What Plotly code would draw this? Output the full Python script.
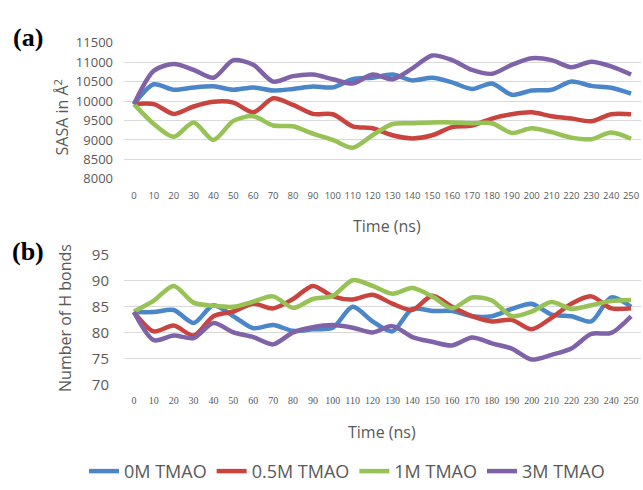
import plotly.graph_objects as go

W, H = 643, 490

time_ns = list(range(0, 251, 10))
series_names = ["0M TMAO", "0.5M TMAO", "1M TMAO", "3M TMAO"]
colors = ["#4a86c8", "#c9443f", "#96c256", "#8062a8"]

sasa_0m = [9920, 10430, 10290, 10350, 10380, 10290, 10350, 10270, 10310, 10370,
           10350, 10560, 10600, 10680, 10530, 10600, 10480, 10310, 10450, 10160,
           10270, 10290, 10500, 10390, 10340, 10190]
sasa_05m = [9920, 9920, 9670, 9860, 9980, 9960, 9710, 10070, 9900, 9670,
            9660, 9350, 9300, 9120, 9040, 9120, 9330, 9370, 9550, 9660,
            9710, 9610, 9550, 9480, 9660, 9660]
sasa_1m = [9920, 9410, 9080, 9450, 9000, 9490, 9610, 9370, 9350, 9160,
           9000, 8800, 9120, 9410, 9430, 9450, 9450, 9430, 9430, 9180,
           9300, 9200, 9060, 9020, 9190, 9030]
sasa_3m = [9920, 10780, 10950, 10800, 10600, 11050, 10930, 10500, 10640, 10680,
           10560, 10450, 10680, 10560, 10840, 11170, 11050, 10800, 10700, 10930,
           11100, 11050, 10870, 11010, 10890, 10680]

hb_0m = [84.0, 84.0, 84.4, 81.9, 85.3, 83.2, 80.9, 81.5, 80.4, 80.7,
         81.0, 85.0, 82.2, 80.3, 84.6, 84.2, 84.2, 83.2, 83.2, 84.6,
         85.6, 83.5, 83.2, 82.2, 86.8, 85.0]
hb_05m = [84.0, 80.3, 81.4, 79.5, 83.2, 84.1, 85.6, 84.7, 86.5, 89.0,
          87.0, 86.4, 87.3, 85.6, 84.4, 87.1, 85.0, 83.2, 82.2, 82.5,
          80.7, 82.9, 85.6, 87.0, 84.7, 84.7]
hb_1m = [84.1, 86.2, 89.0, 85.8, 85.2, 85.0, 86.0, 87.0, 84.8, 86.5,
         87.1, 90.1, 89.0, 87.5, 88.6, 87.0, 84.7, 86.8, 86.2, 83.2,
         84.1, 85.9, 84.6, 85.3, 86.1, 86.3]
hb_3m = [84.0, 78.6, 79.5, 79.0, 81.9, 80.1, 79.2, 77.8, 80.1, 81.1,
         81.5, 81.0, 80.1, 81.3, 79.2, 78.3, 77.6, 79.1, 78.0, 77.0,
         74.9, 75.8, 77.0, 79.8, 80.0, 83.2]

sasa_ticks = [8000, 8500, 9000, 9500, 10000, 10500, 11000, 11500]
hb_ticks = [70, 75, 80, 85, 90, 95]

sasa_data = [sasa_0m, sasa_05m, sasa_1m, sasa_3m]
hb_data = [hb_0m, hb_05m, hb_1m, hb_3m]

fig = go.Figure()
for name, col, ys in zip(series_names, colors, sasa_data):
    fig.add_trace(go.Scatter(x=time_ns, y=ys, mode="lines", name=name,
                             line=dict(color=col, width=4.5, shape="spline", smoothing=0.8),
                             xaxis="x", yaxis="y", showlegend=True))
for name, col, ys in zip(series_names, colors, hb_data):
    fig.add_trace(go.Scatter(x=time_ns, y=ys, mode="lines", name=name,
                             line=dict(color=col, width=4.5, shape="spline", smoothing=0.8),
                             xaxis="x2", yaxis="y2", showlegend=False))

def px_x(p):
    return p / W

def px_y(p):
    return 1 - p / H

xdom = [px_x(124), px_x(641)]
grid = "#d9d9d9"
tickcol = "#595959"

fig.update_layout(
    width=W, height=H,
    margin=dict(l=0, r=0, t=0, b=0),
    paper_bgcolor="white", plot_bgcolor="white",
    font=dict(family="Open Sans", color=tickcol),
    xaxis=dict(domain=xdom, anchor="y", range=[-5, 255], tickvals=time_ns,
               ticktext=[str(t) for t in time_ns], showgrid=False, zeroline=False,
               showline=False, ticks="", ticklabelstandoff=10,
               tickfont=dict(family="Open Sans", size=9.5, color=tickcol)),
    yaxis=dict(domain=[px_y(175), px_y(33)], anchor="x", range=[8000, 11500],
               tickvals=sasa_ticks, ticktext=[str(t) for t in sasa_ticks],
               showgrid=True, gridcolor=grid, gridwidth=1,
               zeroline=False, showline=False, ticks="", ticklabelstandoff=10,
               tickfont=dict(family="Open Sans", size=13, color=tickcol)),
    xaxis2=dict(domain=xdom, anchor="y2", range=[-5, 255], tickvals=time_ns,
                ticktext=[str(t) for t in time_ns], showgrid=False, zeroline=False,
                showline=False, ticks="", ticklabelstandoff=8,
                tickfont=dict(family="Liberation Serif", size=10, color=tickcol)),
    yaxis2=dict(domain=[px_y(390), px_y(254)], anchor="x2", range=[70, 95],
                tickvals=hb_ticks, ticktext=[str(t) for t in hb_ticks],
                showgrid=True, gridcolor=grid, gridwidth=1,
                zeroline=False, showline=False, ticks="", ticklabelstandoff=14,
                tickfont=dict(family="Open Sans", size=15, color=tickcol)),
    legend=dict(orientation="h", x=px_x(347), xanchor="center", y=px_y(480),
                yanchor="middle", font=dict(family="Open Sans", size=18, color=tickcol),
                itemwidth=30, tracegroupgap=0, bgcolor="rgba(0,0,0,0)"),
)

ann = [
    dict(text="<b>(a)</b>", x=px_x(28), y=px_y(28), font=dict(family="Liberation Serif", size=26, color="black")),
    dict(text="<b>(b)</b>", x=px_x(28), y=px_y(251), font=dict(family="Liberation Serif", size=26, color="black")),
    dict(text="SASA in Å<sup>2</sup>", x=px_x(62), y=px_y(111), textangle=-90,
         font=dict(family="Open Sans", size=16, color=tickcol)),
    dict(text="Number of H bonds", x=px_x(65), y=px_y(320), textangle=-90,
         font=dict(family="Open Sans", size=16, color=tickcol)),
    dict(text="Time (ns)", x=px_x(387), y=px_y(224),
         font=dict(family="Open Sans", size=16, color=tickcol)),
    dict(text="Time (ns)", x=px_x(382), y=px_y(439),
         font=dict(family="Open Sans", size=16, color=tickcol)),
]
for a in ann:
    a.update(xref="paper", yref="paper", showarrow=False, xanchor="center", yanchor="middle")
fig.update_layout(annotations=ann)

fig.write_html("out.html")
